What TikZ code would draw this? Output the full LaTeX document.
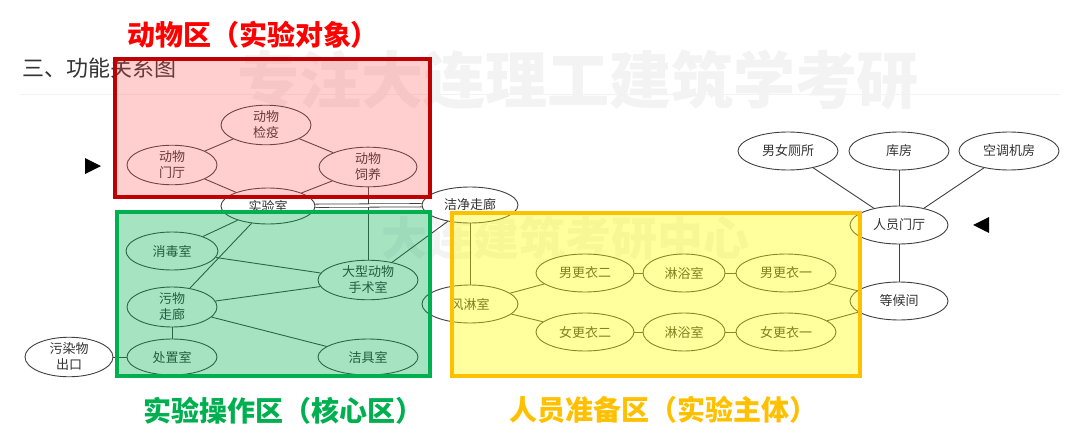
\documentclass[tikz,border=0pt]{standalone}
\usepackage{fontspec}
\newfontfamily\cjk{Noto Sans CJK SC}
\usetikzlibrary{shapes.geometric}
\definecolor{linegray}{HTML}{404040}
\definecolor{txtgray}{HTML}{333333}
\definecolor{redborder}{HTML}{C00000}
\definecolor{redfill}{HTML}{FF5050}
\definecolor{redtitle}{HTML}{FF0000}
\definecolor{greenborder}{HTML}{00B050}
\definecolor{greenfill}{HTML}{00B050}
\definecolor{yellowborder}{HTML}{FFC000}
\definecolor{yellowfill}{HTML}{FFFF00}
\definecolor{wm}{HTML}{F3F3F3}
\tikzset{
  room/.style={ellipse, draw=linegray, fill=white, line width=0.9pt, inner sep=0pt,
    text=txtgray, font=\cjk\fontsize{13}{16}\selectfont, align=center},
  conn/.style={draw=linegray, line width=0.9pt},
  zone/.style={line width=4pt},
  ztitle/.style={font=\cjk\bfseries\fontsize{28}{32}\selectfont, inner sep=0pt}
}
\begin{document}
\begin{tikzpicture}[x=1pt,y=-1pt]
\useasboundingbox[fill=white] (0,0) rectangle (1080,447);
% watermark
\node[font=\cjk\bfseries\fontsize{62}{62}\selectfont, text=wm, inner sep=0pt] (wm1) at (578,80) {专注大连理工建筑学考研};
\node[font=\cjk\bfseries\fontsize{46}{46}\selectfont, text=wm, inner sep=0pt] (wm2) at (565,238) {大连建筑考研中心};
\draw[draw=wm, line width=1pt] (20,94) -- (1060,94);
% heading
\node[font=\cjk\fontsize{22}{24}\selectfont, text=txtgray, anchor=west, inner sep=0pt] (head) at (22,68) {三、功能关系图};
% nodes
\node[room, minimum width=90pt, minimum height=34pt] (quar) at (266,125) {动物\\检疫};
\node[room, minimum width=90pt, minimum height=36pt] (ahall) at (172,165) {动物\\门厅};
\node[room, minimum width=98pt, minimum height=36pt] (feed) at (368,167) {动物\\饲养};
\node[room, minimum width=94pt, minimum height=36pt] (lab) at (268,206) {实验室};
\node[room, minimum width=92pt, minimum height=38pt] (disinf) at (172,251) {消毒室};
\node[room, minimum width=90pt, minimum height=40pt] (dirty) at (172,307) {污物\\走廊};
\node[room, minimum width=90pt, minimum height=36pt] (disp) at (172,357) {处置室};
\node[room, minimum width=100pt, minimum height=38pt] (surg) at (368,280) {大型动物\\手术室};
\node[room, minimum width=100pt, minimum height=36pt] (clean) at (368,357) {洁具室};
\node[room, minimum width=88pt, minimum height=36pt] (exit) at (69,357) {污染物\\出口};
\node[room, minimum width=96pt, minimum height=36pt] (corr) at (470,205) {洁净走廊};
\node[room, minimum width=96pt, minimum height=38pt] (air) at (470,304) {风淋室};
\node[room, minimum width=98pt, minimum height=38pt] (m2) at (585,273) {男更衣二};
\node[room, minimum width=82pt, minimum height=38pt] (s1) at (684,273) {淋浴室};
\node[room, minimum width=100pt, minimum height=38pt] (m1) at (786,273) {男更衣一};
\node[room, minimum width=98pt, minimum height=38pt] (f2) at (585,332) {女更衣二};
\node[room, minimum width=82pt, minimum height=38pt] (s2) at (684,332) {淋浴室};
\node[room, minimum width=100pt, minimum height=38pt] (f1) at (786,332) {女更衣一};
\node[room, minimum width=100pt, minimum height=38pt] (wc) at (788,151) {男女厕所};
\node[room, minimum width=100pt, minimum height=38pt] (store) at (899,151) {库房};
\node[room, minimum width=100pt, minimum height=38pt] (hvac) at (1009,151) {空调机房};
\node[room, minimum width=98pt, minimum height=38pt] (phall) at (899,225) {人员门厅};
\node[room, minimum width=98pt, minimum height=38pt] (wait) at (899,301) {等候间};
% connectors
\draw[conn] (ahall) -- (quar);
\draw[conn] (quar) -- (feed);
\draw[conn] (ahall) -- (lab);
\draw[conn] (feed) -- (lab);
\draw[conn] (feed) -- (surg);
\draw[conn, double=white, double distance=2.5pt, line width=0.8pt] (lab) -- (corr);
\draw[conn] (lab) -- (disinf);
\draw[conn] (lab) -- (dirty);
\draw[conn] (disinf) -- (surg);
\draw[conn] (dirty) -- (surg);
\draw[conn] (dirty) -- (clean);
\draw[conn] (dirty) -- (disp);
\draw[conn] (disp) -- (exit);
\draw[conn] (surg) -- (corr);
\draw[conn] (corr) -- (air);
\draw[conn] (air) -- (m2);
\draw[conn] (air) -- (f2);
\draw[conn] (m2) -- (s1);
\draw[conn] (s1) -- (m1);
\draw[conn] (f2) -- (s2);
\draw[conn] (s2) -- (f1);
\draw[conn] (m1) -- (wait);
\draw[conn] (f1) -- (wait);
\draw[conn] (wc) -- (phall);
\draw[conn] (store) -- (phall);
\draw[conn] (hvac) -- (phall);
\draw[conn] (phall) -- (wait);
% entrance arrows
\fill[black] (85,158) -- (101,166) -- (85,174) -- cycle;
\fill[black] (989,217) -- (973,225) -- (989,233) -- cycle;
% zones
\fill[redfill, fill opacity=0.27] (115,59) rectangle (430,197);
\draw[zone, redborder] (115,59) rectangle (430,197);
\fill[greenfill, fill opacity=0.35] (117,212) rectangle (430,376);
\draw[zone, greenborder] (117,212) rectangle (430,376);
\fill[yellowfill, fill opacity=0.38] (452,213) rectangle (860,376);
\draw[zone, yellowborder] (452,213) rectangle (860,376);
% zone titles
\node[ztitle, text=redtitle] (t1) at (253,35) {动物区（实验对象）};
\node[ztitle, text=greenborder] (t2) at (283,411) {实验操作区（核心区）};
\node[ztitle, text=yellowborder] (t3) at (663,410) {人员准备区（实验主体）};
\end{tikzpicture}
\end{document}
